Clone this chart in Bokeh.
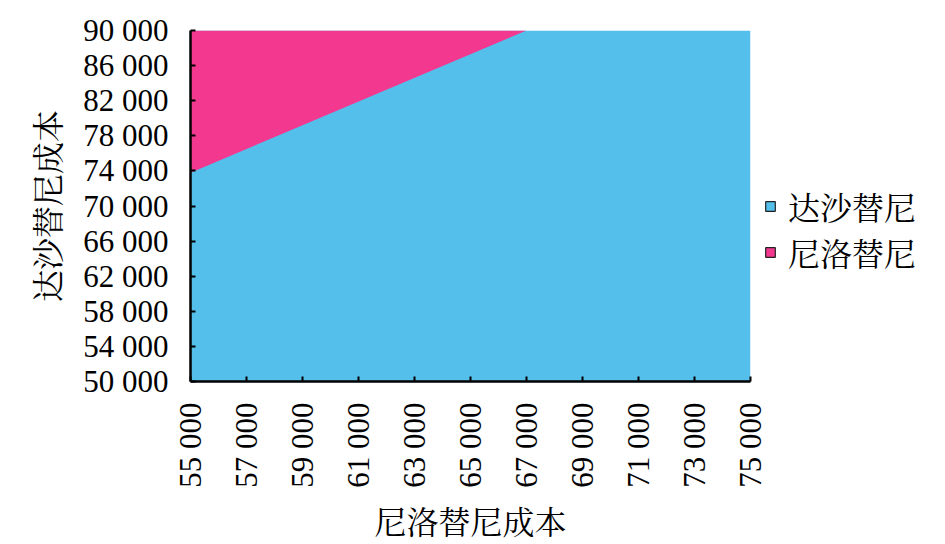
import math
from bokeh.plotting import figure
from bokeh.models import Range1d, FixedTicker, Legend, LegendItem, ColumnDataSource
from bokeh.embed import file_html
from bokeh.resources import INLINE

# ---- data ----
x_ticks = [55000, 57000, 59000, 61000, 63000, 65000, 67000, 69000, 71000, 73000, 75000]
x_tick_labels = ["55 000", "57 000", "59 000", "61 000", "63 000", "65 000",
                 "67 000", "69 000", "71 000", "73 000", "75 000"]
y_ticks = [50000, 54000, 58000, 62000, 66000, 70000, 74000, 78000, 82000, 86000, 90000]
y_tick_labels = ["50 000", "54 000", "58 000", "62 000", "66 000", "70 000",
                 "74 000", "78 000", "82 000", "86 000", "90 000"]
series_names = ["达沙替尼", "尼洛替尼"]
series_colors = ["#55BFEC", "#F2388F"]
x_min, x_max = 55000, 75000
y_min, y_max = 50000, 90000
# boundary between regions (nilotinib cost -> dasatinib cost threshold)
boundary_nilo = [55000, 67000]
boundary_dasa = [73800, 90000]

x_title = "尼洛替尼成本"
y_title = "达沙替尼成本"

num_font = "Liberation Serif"
cjk_font = "Liberation Serif, Noto Serif CJK SC, Noto Sans CJK SC"

p = figure(frame_width=560, frame_height=351,
           x_range=Range1d(x_min, x_max), y_range=Range1d(y_min, y_max),
           output_backend="svg", toolbar_location=None,
           min_border_left=190, min_border_top=30, min_border_bottom=155,
           min_border_right=10)
p.outline_line_color = None
p.xgrid.visible = False
p.ygrid.visible = False

blue_src = ColumnDataSource(dict(x=[x_min, x_max], y1=[y_min, y_min], y2=[y_max, y_max]))
pink_src = ColumnDataSource(dict(x=boundary_nilo, y1=boundary_dasa,
                                 y2=[y_max] * len(boundary_nilo)))
p.varea(x="x", y1="y1", y2="y2", source=blue_src, fill_color=series_colors[0])
p.varea(x="x", y1="y1", y2="y2", source=pink_src, fill_color=series_colors[1])

# legend markers (no visible data points)
leg_r = []
for c in series_colors:
    src = ColumnDataSource(dict(x=[float("nan")], y=[float("nan")]))
    r = p.scatter(x="x", y="y", source=src, marker="square", fill_color=c,
                  line_color="#222222", line_width=1.2, size=9)
    leg_r.append(r)

for ax in (p.xaxis[0], p.yaxis[0]):
    ax.axis_line_width = 2.5
    ax.axis_line_color = "black"
    ax.major_tick_in = 5
    ax.major_tick_out = 0
    ax.major_tick_line_width = 2
    ax.minor_tick_line_color = None
    ax.major_label_text_font = num_font
    ax.major_label_text_font_size = "31px"
    ax.major_label_text_color = "black"
    ax.axis_label_text_font = cjk_font
    ax.axis_label_text_font_size = "32px"
    ax.axis_label_text_font_style = "normal"
    ax.axis_label_text_color = "black"

p.xaxis.ticker = FixedTicker(ticks=x_ticks)
p.yaxis.ticker = FixedTicker(ticks=y_ticks)
p.xaxis.major_label_overrides = dict(zip(x_ticks, x_tick_labels))
p.yaxis.major_label_overrides = dict(zip(y_ticks, y_tick_labels))
p.xaxis.major_label_orientation = math.pi / 2
p.xaxis.major_label_standoff = 21
p.yaxis.major_label_standoff = 22
p.xaxis.axis_label = x_title
p.yaxis.axis_label = y_title
p.xaxis.axis_label_standoff = 14
p.yaxis.axis_label_standoff = 13

legend = Legend(items=[LegendItem(label=n, renderers=[r]) for n, r in zip(series_names, leg_r)],
                location=(8, 106), orientation="vertical")
legend.label_text_font = cjk_font
legend.label_text_font_size = "32px"
legend.label_text_color = "black"
legend.glyph_width = 24
legend.glyph_height = 24
legend.label_height = 36
legend.spacing = 0
legend.padding = 0
legend.margin = 0
legend.label_standoff = 6
legend.border_line_alpha = 0
legend.background_fill_alpha = 0
p.add_layout(legend, "right")

open("out.html", "w").write(file_html(p, INLINE))
